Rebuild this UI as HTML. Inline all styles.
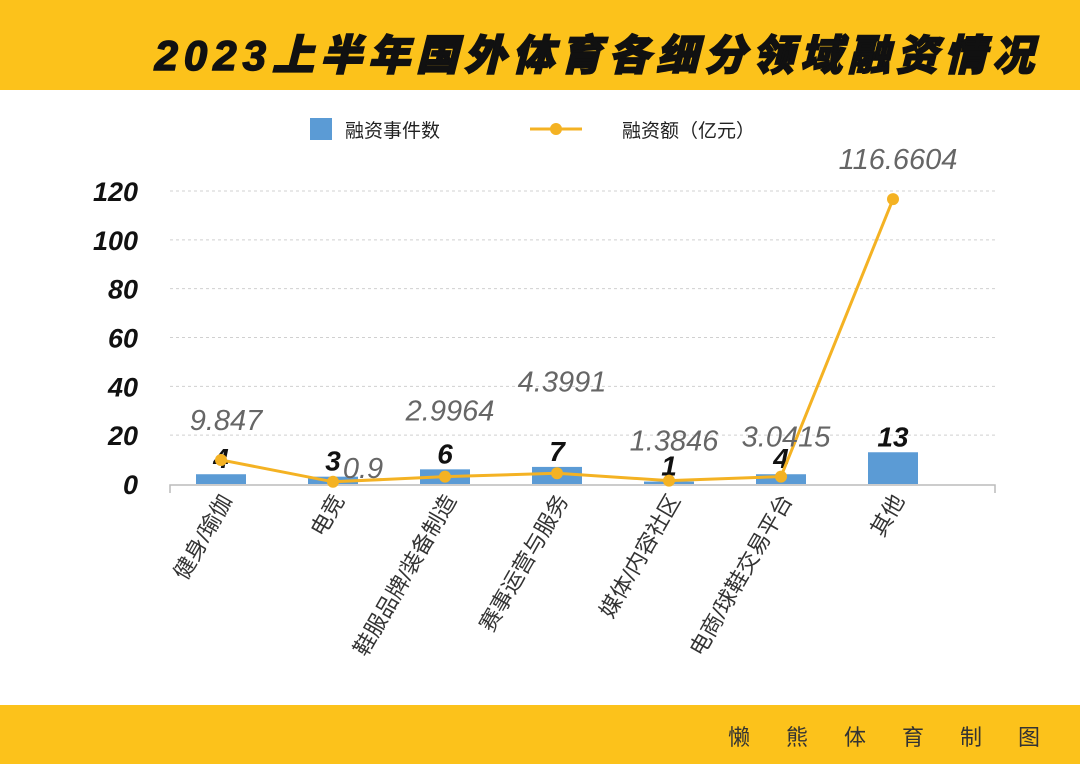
<!DOCTYPE html>
<html><head><meta charset="utf-8">
<style>
body{margin:0;width:1080px;height:764px;overflow:hidden;background:#fff;font-family:"Liberation Sans","Noto Sans CJK SC",sans-serif;}
.band{position:absolute;left:0;width:1080px;background:#fcc21b;}
</style></head>
<body>
<div class="band" style="top:0;height:90px;"></div>
<div style="position:absolute;right:40px;top:22px;font-size:42px;font-weight:900;font-style:italic;color:#111;letter-spacing:6px;-webkit-text-stroke:1.5px #111;white-space:nowrap;">2023上半年国外体育各细分领域融资情况</div>
<div class="band" style="top:705px;height:59px;"></div>
<div style="position:absolute;left:728px;top:720px;font-size:22px;color:#333;letter-spacing:36px;white-space:nowrap;">懒熊体育制图</div>
<svg id="chart" width="1080" height="764" style="position:absolute;left:0;top:0;" xmlns="http://www.w3.org/2000/svg"></svg>
<script>
const categories=["健身/瑜伽","电竞","鞋服品牌/装备制造","赛事运营与服务","媒体/内容社区","电商/球鞋交易平台","其他"];
const counts=[4,3,6,7,1,4,13];
const amounts=[9.847,0.9,2.9964,4.3991,1.3846,3.0415,116.6604];
const amountLabels=["9.847","0.9","2.9964","4.3991","1.3846","3.0415","116.6604"];
const yTicks=[0,20,40,60,80,100,120];
const NS="http://www.w3.org/2000/svg";
const svg=document.getElementById('chart');
const y=v=>484-v*(293/120);
const x=i=>221+i*112;
function mk(t,a){const e=document.createElementNS(NS,t);for(const k in a)e.setAttribute(k,a[k]);svg.appendChild(e);return e;}
yTicks.forEach(t=>{
 if(t>0){const g=mk('line',{x1:170,x2:995,y1:y(t),y2:y(t),stroke:'#d0d0d0','stroke-dasharray':'3,3'});
 
 }
 const l=mk('text',{x:138,y:y(t)+10,'text-anchor':'end','font-size':27,'font-weight':'bold','font-style':'italic',fill:'#111'});
 l.textContent=t;
 
 
});
const ax=mk('path',{d:'M170,493V485H995V493',fill:'none',stroke:'#bbb','stroke-width':1.5});


counts.forEach((c,i)=>{
 const b=mk('rect',{x:x(i)-25,y:y(c),width:50,height:y(0)-y(c),fill:'#5b9bd5'});
 
 
 const t=mk('text',{x:x(i),y:Math.min(y(c)-6,y(4)+14),'text-anchor':'middle','font-size':28,'font-weight':'bold','font-style':'italic',fill:'#111'});
 t.textContent=c;
 
 
 const xl=mk('text',{x:0,y:0,'text-anchor':'end','font-size':22,fill:'#333',transform:`translate(${x(i)+12},${500}) rotate(-60)`});
 xl.textContent=categories[i];
 
 
});
const pl=mk('polyline',{points:amounts.map((v,i)=>x(i)+','+y(v)).join(' '),fill:'none',stroke:'#f4b223','stroke-width':3});


amounts.forEach((v,i)=>{
 const d=mk('circle',{cx:x(i),cy:y(v),r:6,fill:'#f4b223'});
 
 
 const lt=mk('text',{x:x(i)+(i==1?30:5),y:i==1?y(v)-4:y(v)-30-(i==3?52:i==2?26:0),'text-anchor':'middle','font-size':29,'font-style':'italic',fill:'#666'});
 lt.textContent=amountLabels[i];
 
 
});
const lb=mk('rect',{x:310,y:118,width:22,height:22,fill:'#5b9bd5'});


const lt1=mk('text',{x:345,y:137,'font-size':19,fill:'#222'});lt1.textContent='融资事件数';


const ll=mk('line',{x1:530,x2:582,y1:129,y2:129,stroke:'#f4b223','stroke-width':3});


const lc=mk('circle',{cx:556,cy:129,r:6,fill:'#f4b223'});


const lt2=mk('text',{x:622,y:137,'font-size':19,fill:'#222'});lt2.textContent='融资额（亿元）';


</script>
</body></html>
